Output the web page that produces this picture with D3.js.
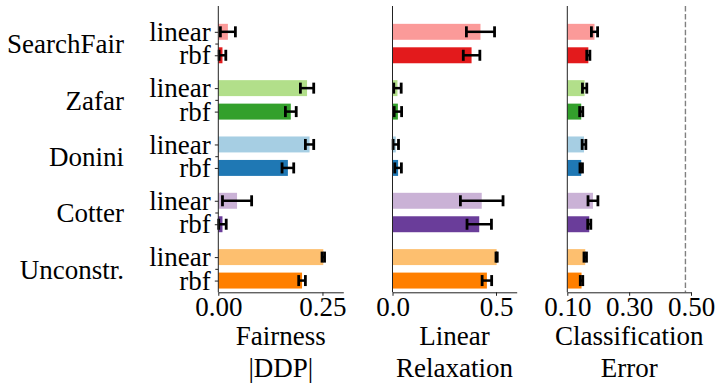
<!DOCTYPE html>
<html>
<head>
<meta charset="utf-8">
<script src="https://cdn.jsdelivr.net/npm/d3@7"></script>
<style>
  html, body { margin: 0; padding: 0; background: #fff; }
  svg { display: block; }
</style>
</head>
<body>
<svg id="chart" width="720" height="390"></svg>
<script>
// ---------- data ----------
const methods = ["SearchFair", "Zafar", "Donini", "Cotter", "Unconstr."];
const kernels = ["linear", "rbf"];
const lightColors = ["#fb9a99", "#b2df8a", "#a6cee3", "#cab2d6", "#fdbf6f"];
const darkColors  = ["#e31a1c", "#33a02c", "#1f78b4", "#6a3d9a", "#ff7f00"];

// [linear, rbf] per method
const fairness      = [[0.023, 0.010], [0.213, 0.174], [0.219, 0.167], [0.045, 0.010], [0.252, 0.201]];
const fairnessErr   = [[0.018, 0.008], [0.016, 0.013], [0.010, 0.014], [0.035, 0.009], [0.003, 0.008]];
const relaxation    = [[0.425, 0.382], [0.024, 0.026], [0.016, 0.027], [0.431, 0.419], [0.503, 0.456]];
const relaxationErr = [[0.068, 0.040], [0.018, 0.018], [0.013, 0.016], [0.103, 0.059], [0.003, 0.023]];
const clfError      = [[0.188, 0.168], [0.156, 0.145], [0.154, 0.145], [0.183, 0.171], [0.158, 0.146]];
const clfErrorErr   = [[0.010, 0.005], [0.007, 0.005], [0.006, 0.004], [0.016, 0.005], [0.004, 0.004]];

const panelTitles = [["Fairness", "|DDP|"], ["Linear", "Relaxation"], ["Classification", "Error"]];
const xDomains = [[0, 0.30], [0, 0.60], [0.10, 0.50]];
const xTicks = [[0, 0.25], [0, 0.5], [0.1, 0.3, 0.5]];
const xFormats = [".2f", ".1f", ".2f"];
const baselineError = 0.482;

// ---------- layout ----------
const svg = d3.select("#chart");
const FS = 27;
const FONT = '"Liberation Serif"';
const plotTop = 6, plotBottom = 292.3;
const panelRanges = [[218.3, 343.3], [392.5, 516.7], [567.3, 691.0]];

// y positions (units): group g linear at 1.2g, rbf at 1.2g + 0.5
const groupStep = 1.2, kernelStep = 0.5, barH = 0.34;
const y = d3.scaleLinear().domain([-0.55, 5.55]).range([plotTop, plotBottom]);

const rows = [];
methods.forEach((m, g) => {
  kernels.forEach((k, j) => {
    rows.push({g, j, pos: g * groupStep + j * kernelStep,
               color: j === 0 ? lightColors[g] : darkColors[g]});
  });
});

const panelData = [[fairness, fairnessErr], [relaxation, relaxationErr], [clfError, clfErrorErr]];

function styleText(sel) {
  sel.style("font-family", FONT).style("font-size", FS + "px").attr("fill", "#000");
}

panelData.forEach(([vals, errs], p) => {
  const x = d3.scaleLinear().domain(xDomains[p]).range(panelRanges[p]);
  const gP = svg.append("g");

  // bars
  gP.selectAll("rect.bar").data(rows).join("rect")
    .attr("class", "bar")
    .attr("x", x(xDomains[p][0]))
    .attr("y", d => y(d.pos - barH / 2))
    .attr("width", d => Math.max(0, x(vals[d.g][d.j]) - x(xDomains[p][0])))
    .attr("height", y(barH) - y(0))
    .attr("fill", d => d.color);

  // error bars
  const capH = 11;
  const eb = gP.selectAll("g.err").data(rows).join("g").attr("class", "err");
  eb.append("line")
    .attr("x1", d => x(vals[d.g][d.j] - errs[d.g][d.j]))
    .attr("x2", d => x(vals[d.g][d.j] + errs[d.g][d.j]))
    .attr("y1", d => y(d.pos)).attr("y2", d => y(d.pos))
    .attr("stroke", "#000").attr("stroke-width", 2.5);
  [-1, 1].forEach(s => {
    eb.append("line")
      .attr("x1", d => x(vals[d.g][d.j] + s * errs[d.g][d.j]))
      .attr("x2", d => x(vals[d.g][d.j] + s * errs[d.g][d.j]))
      .attr("y1", d => y(d.pos) - capH / 2).attr("y2", d => y(d.pos) + capH / 2)
      .attr("stroke", "#000").attr("stroke-width", 2.8);
  });

  // baseline dashed line in last panel
  if (p === 2) {
    gP.append("line")
      .attr("x1", x(baselineError)).attr("x2", x(baselineError))
      .attr("y1", plotTop).attr("y2", plotBottom)
      .attr("stroke", "#808080").attr("stroke-width", 1.4)
      .attr("stroke-dasharray", "5.5,2.4");
  }

  // x axis
  const xa = d3.axisBottom(x).tickValues(xTicks[p]).tickFormat(d3.format(xFormats[p]))
    .tickSize(3.5).tickSizeOuter(0).tickPadding(1);
  const gx = gP.append("g").attr("transform", `translate(0,${plotBottom})`).call(xa)
    .attr("font-family", null).attr("font-size", null);
  gx.select(".domain").attr("stroke", "#222").attr("stroke-width", 1);
  gx.selectAll(".tick line").attr("stroke", "#222").attr("stroke-width", 1);
  styleText(gx.selectAll(".tick text"));

  // left spine
  gP.append("line")
    .attr("x1", panelRanges[p][0]).attr("x2", panelRanges[p][0])
    .attr("y1", plotTop).attr("y2", plotBottom)
    .attr("stroke", "#222").attr("stroke-width", 1);

  // titles
  const cx = (panelRanges[p][0] + panelRanges[p][1]) / 2;
  panelTitles[p].forEach((t, i) => {
    styleText(gP.append("text").attr("x", cx).attr("y", 345 + i * 32)
      .attr("text-anchor", "middle").text(t));
  });

  // y axis on first panel
  if (p === 0) {
    const rowPos = rows.map(d => d.pos);
    const groupPos = methods.map((m, g) => g * groupStep + kernelStep / 2);
    const ya = d3.axisLeft(y).tickValues(rowPos)
      .tickFormat((d, i) => kernels[rows[i].j])
      .tickSize(3.5).tickSizeOuter(0).tickPadding(4);
    const gy = gP.append("g").attr("transform", `translate(${panelRanges[p][0]},0)`).call(ya)
      .attr("font-family", null).attr("font-size", null);
    gy.select(".domain").remove();
    gy.selectAll(".tick line").attr("stroke", "#222").attr("stroke-width", 1);
    styleText(gy.selectAll(".tick text"));

    const ym = d3.axisLeft(y).tickValues(groupPos).tickFormat(() => "")
      .tickSize(3).tickSizeOuter(0);
    const gm = gP.append("g").attr("transform", `translate(${panelRanges[p][0]},0)`).call(ym);
    gm.select(".domain").remove();
    gm.selectAll(".tick line").attr("stroke", "#222").attr("stroke-width", 1);
    gm.selectAll(".tick text").remove();

    styleText(gP.selectAll("text.group").data(methods).join("text")
      .attr("class", "group")
      .attr("x", 124).attr("y", (d, g) => y(groupPos[g]))
      .attr("dy", "0.36em").attr("text-anchor", "end")
      .text(d => d));
  }
});
</script>
</body>
</html>
